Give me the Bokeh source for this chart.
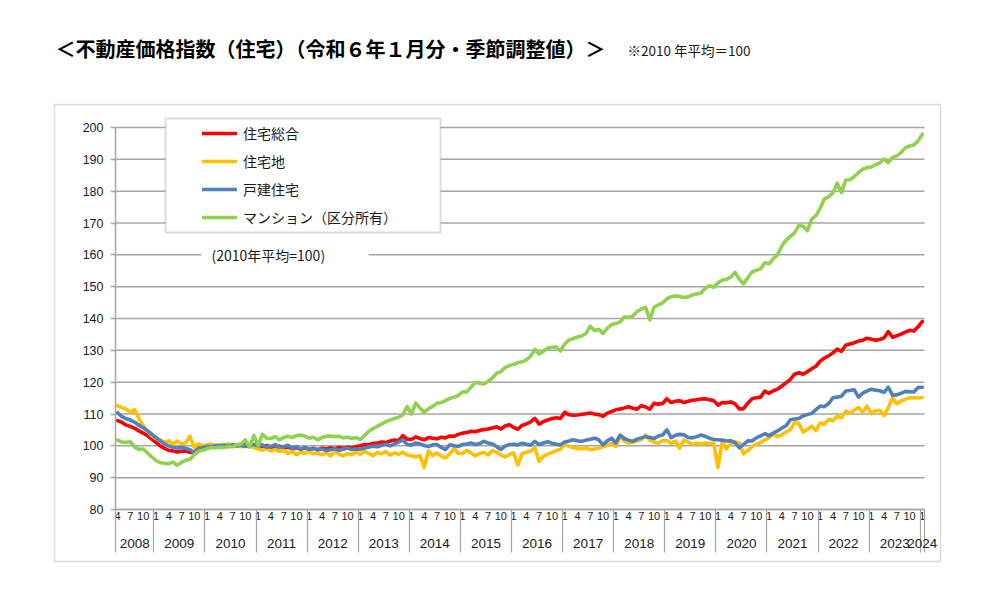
from bokeh.plotting import figure
from bokeh.models import (Range1d, LinearAxis, FixedTicker, Legend, LegendItem,
                          BoxAnnotation, Label, ColumnDataSource)
from bokeh.embed import file_html
from bokeh.resources import INLINE

# ---------------- texts ----------------
TITLE = "＜不動産価格指数（住宅）（令和６年１月分・季節調整値）＞"
NOTE = "※2010 年平均＝100"
BASE_NOTE = "(2010年平均=100)"
SERIES_NAMES = ["住宅総合", "住宅地", "戸建住宅", "マンション（区分所有）"]
SERIES_COLORS = ["#FF0000", "#FFC000", "#4F81BD", "#92D050"]
Y_TICKS = [80, 90, 100, 110, 120, 130, 140, 150, 160, 170, 180, 190, 200]
MONTH_TICK_LABELS = [1, 4, 7, 10]
START = (2008, 4)
END = (2024, 1)

# ---------------- data (monthly, 2008/4 .. 2024/1) ----------------
SOGO = [  # 住宅総合
    107.9, 107.4, 106.5, 106.1, 105.5, 104.7, 104.0, 103.2, 102.1,
    101.1, 100.0, 99.2, 98.6, 98.4, 98.1, 98.3, 98.4, 97.9, 98.1, 99.2, 99.5,
    99.6, 99.8, 100.1, 99.9, 100.2, 100.0, 100.3, 99.9, 100.1, 100.4, 100.0, 100.2,
    100.2, 99.8, 100.1, 99.6, 99.5, 99.9, 99.3, 99.6, 99.1, 99.4, 99.0, 99.3,
    98.9, 99.2, 98.8, 99.3, 99.0, 99.4, 99.1, 99.5, 99.2, 99.6, 99.3, 99.8,
    100.0, 100.4, 100.3, 100.8, 100.9, 101.2, 101.0, 101.5, 101.8, 101.6, 103.2, 102.1,
    102.0, 102.8, 102.3, 101.9, 102.6, 102.4, 102.2, 102.7, 102.5, 103.1, 103.0, 103.6,
    104.0, 104.2, 104.6, 104.4, 104.8, 105.1, 105.3, 105.6, 106.0, 105.3, 106.2, 106.6,
    105.8, 105.2, 106.4, 106.9, 107.5, 108.6, 106.8, 107.6, 108.1, 108.6, 108.8, 108.6,
    110.5, 109.8, 109.6, 109.7, 109.9, 110.1, 110.3, 110.0, 109.8, 109.3, 110.2, 110.8,
    111.3, 111.6, 111.9, 112.3, 111.8, 111.5, 112.6, 112.2, 111.5, 113.4, 113.1, 113.3,
    114.8, 113.6, 114.0, 114.2, 113.6, 114.0, 114.3, 114.5, 114.7, 114.8, 114.5, 114.2,
    112.8, 113.6, 113.5, 113.8, 113.2, 111.6, 111.7, 113.4, 114.8, 115.1, 115.3, 117.2,
    116.5, 117.3, 117.8, 118.8, 119.8, 120.9, 122.5, 123.0, 122.5, 123.3, 124.2, 125.0,
    126.6, 127.6, 128.3, 129.2, 130.4, 129.7, 131.6, 132.0, 132.4, 132.9, 133.2, 133.8,
    133.5, 133.2, 133.4, 133.9, 135.9, 134.1, 134.6, 135.1, 135.7, 136.3, 136.1, 137.4,
    139.1,
]
JUTAKUCHI = [  # 住宅地
    112.6, 112.0, 111.5, 110.6, 111.4, 108.5, 106.3, 104.7, 103.2,
    102.3, 101.8, 101.1, 101.6, 100.5, 101.5, 100.6, 101.0, 103.0, 99.5, 100.6, 100.0,
    100.3, 100.6, 99.8, 100.4, 100.1, 100.6, 99.9, 100.2, 99.7, 100.1, 99.9, 99.5,
    99.0, 98.6, 99.2, 98.4, 98.9, 98.2, 98.6, 97.6, 98.3, 97.2, 98.0, 97.6,
    98.2, 97.5, 97.7, 97.2, 97.8, 96.8, 98.0, 97.4, 96.8, 97.6, 97.2, 98.0,
    97.3, 98.3, 97.6, 96.9, 97.9, 97.5, 98.2, 97.1, 97.8, 97.3, 98.0, 97.1,
    96.9, 96.5, 97.0, 93.2, 98.4, 97.0, 97.8, 96.8, 96.2, 97.5, 99.2, 97.6,
    97.6, 98.6, 97.8, 96.8, 97.6, 97.9, 97.1, 98.5, 98.0, 97.1, 96.5, 97.3,
    97.8, 94.0, 97.6, 98.0, 98.3, 99.4, 95.1, 96.7, 97.4, 97.9, 98.5, 98.9,
    100.6, 99.8, 99.5, 99.2, 99.1, 99.3, 98.8, 99.0, 99.3, 99.7, 100.2, 100.8,
    99.8, 103.0, 101.4, 100.9, 101.2, 101.5, 102.0, 103.4, 101.8, 101.2, 100.8, 101.7,
    101.6, 100.8, 101.5, 99.2, 101.8, 101.2, 100.4, 100.8, 100.6, 100.9, 100.7, 100.8,
    93.2, 101.4, 99.0, 100.8, 101.2, 100.9, 97.5, 98.5, 99.8, 100.5, 101.0, 101.8,
    102.6, 103.6, 102.9, 103.5, 104.4, 105.1, 107.3, 107.0, 104.3, 105.2, 106.2, 104.8,
    107.2, 106.8, 108.3, 107.9, 109.3, 108.8, 110.9, 110.3, 111.2, 112.0, 110.6, 112.5,
    110.1, 111.0, 111.2, 109.5, 112.0, 115.0, 113.2, 114.1, 114.6, 115.1, 115.2, 115.0,
    115.2,
]
KODATE = [  # 戸建住宅
    110.4, 109.2, 108.5, 108.1, 107.4, 106.5, 105.7, 104.7, 103.7,
    102.6, 101.6, 100.6, 100.0, 99.5, 99.3, 99.5, 99.2, 98.8, 97.9, 99.0, 99.5,
    99.8, 99.7, 100.1, 100.0, 100.2, 99.9, 100.3, 100.0, 100.2, 99.8, 100.1, 100.4,
    100.0, 100.3, 99.6, 99.8, 100.4, 99.5, 99.7, 100.2, 99.1, 99.8, 98.9, 99.5,
    98.9, 99.2, 98.7, 99.0, 98.5, 98.8, 99.1, 98.6, 98.9, 99.3, 98.8, 99.0,
    98.9, 99.3, 99.6, 99.9, 99.7, 100.2, 100.5, 100.0, 100.6, 101.2, 101.9, 100.4,
    100.2, 100.9, 100.6, 100.1, 99.8, 100.3, 100.4, 99.5, 98.8, 100.3, 100.0, 99.8,
    100.4, 100.6, 100.9, 100.4, 100.7, 101.4, 100.9, 100.6, 99.8, 98.8, 99.9, 100.4,
    100.5, 100.3, 100.8, 100.5, 100.2, 101.4, 100.4, 100.9, 101.3, 100.8, 100.5, 100.3,
    101.2, 101.5, 101.9, 101.6, 101.4, 101.8, 102.1, 102.4, 101.9, 100.3, 101.6, 102.4,
    100.9, 103.4, 102.3, 101.8, 101.4, 102.1, 102.5, 102.9, 102.6, 102.3, 103.1, 103.4,
    105.0, 102.6, 103.3, 103.6, 103.5, 102.6, 102.5, 102.9, 103.4, 103.0, 102.4, 102.0,
    101.9, 101.8, 101.5, 101.6, 101.0, 99.4, 100.4, 101.6, 101.5, 102.5, 103.1, 103.8,
    103.2, 104.0, 104.7, 105.6, 106.3, 108.2, 108.4, 108.6, 109.4, 109.8, 110.2, 111.4,
    112.5, 112.3, 113.3, 115.1, 115.3, 115.6, 117.2, 117.4, 117.6, 115.3, 116.6, 117.2,
    117.8, 117.5, 117.3, 116.8, 118.4, 115.9, 116.0, 116.5, 117.1, 117.0, 116.9, 118.3,
    118.4,
]
MANSION = [  # マンション（区分所有）
    101.8, 101.2, 101.1, 101.3, 99.6, 98.9, 99.0, 97.8, 96.5,
    95.4, 94.7, 94.5, 94.4, 94.9, 93.9, 94.8, 95.5, 95.8, 97.2, 98.3, 98.6,
    99.1, 99.5, 99.4, 99.6, 99.5, 99.8, 99.7, 100.3, 100.6, 101.9, 99.6, 103.3,
    100.1, 103.6, 102.4, 102.3, 102.9, 101.9, 102.6, 103.0, 102.6, 103.2, 103.4, 103.0,
    102.4, 102.7, 101.9, 102.6, 103.0, 103.1, 102.9, 103.0, 102.5, 102.7, 102.3, 102.6,
    102.0, 103.2, 104.6, 105.4, 106.1, 106.8, 107.6, 108.1, 108.6, 109.0, 109.8, 112.3,
    110.0, 113.4, 111.9, 110.6, 111.6, 112.4, 113.4, 113.6, 114.2, 114.9, 115.3, 115.8,
    117.0, 116.9, 118.5, 119.9, 119.7, 119.4, 120.3, 121.3, 122.8, 123.3, 124.6, 125.2,
    125.6, 126.1, 126.4, 127.0, 128.2, 130.3, 128.8, 129.7, 130.7, 130.9, 131.1, 129.8,
    132.0, 133.2, 133.7, 134.2, 134.5, 135.3, 137.6, 136.2, 136.6, 135.3, 137.0, 138.1,
    138.4, 138.9, 140.5, 140.3, 140.8, 142.2, 143.0, 143.5, 139.6, 143.6, 144.3, 144.9,
    146.2, 146.8, 147.1, 146.9, 146.6, 146.8, 147.4, 147.7, 148.0, 149.5, 150.3, 149.8,
    151.2, 152.0, 152.3, 153.0, 154.5, 152.4, 150.9, 152.8, 154.6, 155.1, 155.6, 157.5,
    157.2, 158.8, 160.0, 162.8, 164.6, 165.8, 167.0, 169.2, 169.0, 167.6, 171.2, 172.3,
    174.6, 177.6, 178.2, 179.5, 182.5, 179.6, 183.5, 183.6, 184.6, 185.8, 186.9, 187.4,
    187.6, 188.3, 188.9, 190.1, 189.0, 190.6, 191.1, 192.1, 193.6, 194.2, 194.5, 195.8,
    197.9,
]

# ---------------- periods / category positions ----------------
periods = []
yy, mm = START
while (yy, mm) <= END:
    periods.append((yy, mm))
    mm += 1
    if mm > 12:
        yy, mm = yy + 1, 1
N = len(periods)
for s in (SOGO, JUTAKUCHI, KODATE, MANSION):
    assert len(s) == N, (len(s), N)

xs = list(range(N))
month_ticks = [i for i, (_, m) in enumerate(periods) if m in MONTH_TICK_LABELS]
month_overrides = {i: str(periods[i][1]) for i in month_ticks}
years = sorted({y for y, _ in periods})
year_centers, boundaries, year_overrides = [], [], {}
for yr in years:
    ids = [i for i, (y, _) in enumerate(periods) if y == yr]
    c = (ids[0] + ids[-1]) / 2
    year_centers.append(c)
    year_overrides[c] = str(yr)
    boundaries.append(ids[0] - 0.5)
boundaries.append(N - 0.5)

# ---------------- layout constants (canvas px) ----------------
W, H = 991, 603
FL, FR, FT, FB = 115, 924, 127, 509          # data area on the canvas
Y0, Y1 = 80, 200
X0, X1 = -0.5, N - 0.5
kx = (FR - FL) / (X1 - X0)
ky = (FB - FT) / (Y1 - Y0)
GRID = "#a6a6a6"
TXT = "#1a1a1a"


def sx(x):
    return x


def sy(y):
    return H - y


# the frame covers the whole canvas; the data area is placed through the ranges
p = figure(width=W, height=H,
           x_range=Range1d(X0 - FL / kx, X1 + (W - FR) / kx),
           y_range=Range1d(Y0 - (H - FB) / ky, Y1 + FT / ky),
           x_axis_type=None, y_axis_type=None, output_backend="svg", toolbar_location=None,
           min_border=0, outline_line_color=None,
           background_fill_color="white", border_fill_color="white")

# horizontal gridlines, limited to the data area
grid_src = ColumnDataSource(dict(x0=[X0] * len(Y_TICKS), x1=[X1] * len(Y_TICKS), y=Y_TICKS))
p.segment(x0="x0", y0="y", x1="x1", y1="y", source=grid_src, line_color=GRID,
          line_width=1.5, level="underlay")

# y axis
yaxis = LinearAxis(ticker=FixedTicker(ticks=Y_TICKS), fixed_location=X0, bounds=(Y0, Y1))
yaxis.axis_line_color = GRID
yaxis.axis_line_width = 1.5
yaxis.major_tick_line_color = GRID
yaxis.major_tick_line_width = 1.5
yaxis.major_tick_out = 5
yaxis.major_tick_in = 0
yaxis.minor_tick_line_color = None
yaxis.major_label_standoff = 7
yaxis.major_label_text_font = "Liberation Sans"
yaxis.major_label_text_font_size = "12.5px"
yaxis.major_label_text_color = TXT
p.add_layout(yaxis, "left")

# month axis
maxis = LinearAxis(ticker=FixedTicker(ticks=month_ticks), fixed_location=Y0, bounds=(X0, X1))
maxis.major_label_overrides = month_overrides
maxis.axis_line_color = GRID
maxis.axis_line_width = 1.5
maxis.major_tick_line_color = None
maxis.major_tick_out = 0
maxis.major_tick_in = 0
maxis.minor_tick_line_color = None
maxis.major_label_standoff = 2
maxis.major_label_text_font = "Liberation Sans"
maxis.major_label_text_font_size = "11px"
maxis.major_label_text_color = TXT
p.add_layout(maxis, "below")

# year separators
saxis = LinearAxis(ticker=FixedTicker(ticks=[], minor_ticks=boundaries), fixed_location=Y0,
                   bounds=(X0, X1))
saxis.axis_line_color = None
saxis.major_tick_line_color = None
saxis.minor_tick_line_color = GRID
saxis.minor_tick_line_width = 1.2
saxis.minor_tick_out = 43
saxis.minor_tick_in = 0
p.add_layout(saxis, "below")

# year axis
yraxis = LinearAxis(ticker=FixedTicker(ticks=year_centers), fixed_location=Y0)
yraxis.major_label_overrides = year_overrides
yraxis.axis_line_color = None
yraxis.major_tick_line_color = None
yraxis.major_tick_out = 0
yraxis.major_tick_in = 0
yraxis.minor_tick_line_color = None
yraxis.major_label_standoff = 29
yraxis.major_label_text_font = "Liberation Sans"
yraxis.major_label_text_font_size = "13.5px"
yraxis.major_label_text_color = TXT
p.add_layout(yraxis, "below")

# lines
src = ColumnDataSource(dict(x=xs, s0=SOGO, s1=JUTAKUCHI, s2=KODATE, s3=MANSION))
renderers = []
for k, col in enumerate(SERIES_COLORS):
    r = p.line(x="x", y=f"s{k}", source=src, line_color=col, line_width=3.6,
               line_join="round", line_cap="round")
    renderers.append(r)


def box(l, t, r, b, **kw):
    return BoxAnnotation(left=sx(l), right=sx(r), top=sy(t), bottom=sy(b),
                         left_units="screen", right_units="screen",
                         top_units="screen", bottom_units="screen", **kw)


# outer frame
p.add_layout(box(54, 104, 940, 561, fill_alpha=0, line_color="#8c8c8c", line_width=1.5))

# legend box + legend
p.add_layout(box(165, 118, 440, 232, fill_color="white", fill_alpha=1,
                 line_color="#8c8c8c", line_width=2))
legend = Legend(items=[LegendItem(label=n, renderers=[r]) for n, r in zip(SERIES_NAMES, renderers)],
                location=(sx(202), sy(227)), padding=0, margin=0, spacing=8,
                glyph_width=35, glyph_height=20, label_height=20, label_standoff=6,
                label_text_font="Noto Sans CJK JP", label_text_font_size="14px",
                label_text_color=TXT, border_line_color=None, background_fill_alpha=0)
p.add_layout(legend)

# base note with white gap in the 160 gridline
p.add_layout(box(201, 245, 368, 263, fill_color="white", fill_alpha=1, line_color=None))
p.add_layout(Label(x=sx(211), y=sy(254), x_units="screen", y_units="screen", text=BASE_NOTE,
                   text_font="Noto Sans CJK JP", text_font_size="14px", text_color=TXT,
                   text_baseline="middle", text_align="left"))

# title and note
p.add_layout(Label(x=sx(55), y=sy(48), x_units="screen", y_units="screen", text=TITLE,
                   text_font="Noto Sans CJK JP", text_font_size="20px", text_font_style="bold",
                   text_color="black", text_baseline="middle", text_align="left"))
p.add_layout(Label(x=sx(627), y=sy(49), x_units="screen", y_units="screen", text=NOTE,
                   text_font="Noto Sans CJK JP", text_font_size="13.5px", text_color=TXT,
                   text_baseline="middle", text_align="left"))

open("out.html", "w").write(file_html(p, INLINE))
